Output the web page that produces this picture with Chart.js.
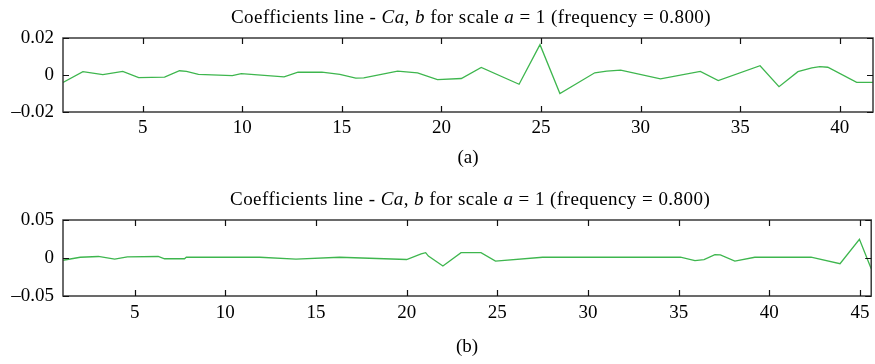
<!DOCTYPE html>
<html>
<head>
<meta charset="utf-8">
<script src="https://cdn.jsdelivr.net/npm/chart.js@4/dist/chart.umd.min.js"></script>
<style>
  body { margin: 0; background: #fff; }
  canvas { position: absolute; left: 0; }
  #chartA { top: 0; }
  #chartB { top: 180px; }
</style>
</head>
<body>
<canvas id="chartA" width="875" height="175"></canvas>
<canvas id="chartB" width="875" height="184"></canvas>
<script>
// (a) coefficient positions and values
var posA = [1, 2, 3, 4, 4.8, 6.1, 6.85, 7.2, 7.8, 9.5, 9.95, 12.1, 12.8, 14.0, 14.9, 15.7, 16.1,
  17.8, 18.8, 19.8, 21.0, 22.0, 23.9, 24.95, 25.95, 27.7, 28.3, 29.0, 31.0, 33.0, 33.9, 36.0,
  36.95, 37.9, 38.6, 39.0, 39.4, 40.85, 41.67];
var coefA = [-0.004, 0.0018, 0.0002, 0.002, -0.0014, -0.0012, 0.0023, 0.002, 0.0003, -0.0003, 0.0007,
  -0.001, 0.0015, 0.0015, 0.0003, -0.0017, -0.0015, 0.0021, 0.0012, -0.0025, -0.0019, 0.0041, -0.005,
  0.0164, -0.01, 0.0012, 0.0021, 0.0026, -0.0021, 0.0019, -0.003, 0.005, -0.0063, 0.0018, 0.0038,
  0.0045, 0.0042, -0.004, -0.004];

// (b) coefficient positions and values
var posB = [1.05, 2, 3, 3.9, 4.6, 6.3, 6.65, 7.75, 7.85, 11.9, 13.9, 16.3, 20.0, 20.8, 21.05, 21.2,
  22.0, 23.0, 24.1, 24.9, 27.5, 35.1, 35.9, 36.4, 37.0, 37.3, 38.1, 39.2, 42.3, 43.9, 44.97, 45.62];
var coefB = [-0.003, 0.001, 0.002, -0.0015, 0.0015, 0.002, -0.001, -0.001, 0.001, 0.001, -0.0015,
  0.001, -0.002, 0.0055, 0.007, 0.0025, -0.0105, 0.007, 0.007, -0.004, 0.001, 0.001, -0.0035, -0.002,
  0.0045, 0.004, -0.004, 0.001, 0.001, -0.0075, 0.0245, -0.014];

var xTicksA = [5, 10, 15, 20, 25, 30, 35, 40];
var xTicksB = [5, 10, 15, 20, 25, 30, 35, 40, 45];
var yTicksA = [-0.02, 0, 0.02];
var yTicksB = [-0.05, 0, 0.05];

var titleParts = [
  ["Coefficients line - ", false], ["Ca", true], [", ", false], ["b", true],
  [" for scale ", false], ["a", true], [" = 1 (frequency = 0.800)", false]
];

var serif = "'Liberation Serif', 'DejaVu Serif', serif";
var fontSize = 19;
var lineColor = "rgb(62, 182, 78)";
var frameColor = "#3a3a3a";

function fmt(v) {
  if (v === 0) return "0";
  var s = Math.abs(v).toFixed(2);
  return v < 0 ? "\u2013" + s : s;
}

// box around the plot with inward tick marks, plus the mixed-style title
var framePlugin = {
  id: "frame",
  afterDatasetsDraw: function (chart, args, opts) {
    var ctx = chart.ctx, a = chart.chartArea;
    var x = chart.scales.x, y = chart.scales.y;
    ctx.save();
    ctx.strokeStyle = frameColor;
    ctx.lineWidth = 1.5;
    ctx.strokeRect(a.left, a.top, a.right - a.left, a.bottom - a.top);
    ctx.beginPath();
    x.ticks.forEach(function (t) {
      var px = Math.round(x.getPixelForValue(t.value)) + 0.5;
      ctx.moveTo(px, a.top); ctx.lineTo(px, a.top + 6);
      ctx.moveTo(px, a.bottom); ctx.lineTo(px, a.bottom - 6);
    });
    y.ticks.forEach(function (t) {
      var py = Math.round(y.getPixelForValue(t.value)) + 0.5;
      ctx.moveTo(a.left, py); ctx.lineTo(a.left + 6, py);
      ctx.moveTo(a.right, py); ctx.lineTo(a.right - 6, py);
    });
    ctx.lineWidth = 1.2;
    ctx.strokeStyle = "#111";
    ctx.stroke();

    // title
    ctx.fillStyle = "#000";
    ctx.textBaseline = "middle";
    ctx.letterSpacing = "0.45px";
    var total = 0;
    titleParts.forEach(function (p) {
      ctx.font = (p[1] ? "italic " : "") + fontSize + "px " + serif;
      total += ctx.measureText(p[0]).width;
    });
    var cx = (a.left + a.right) / 2 + 3 - total / 2;
    titleParts.forEach(function (p) {
      ctx.font = (p[1] ? "italic " : "") + fontSize + "px " + serif;
      ctx.fillText(p[0], cx, opts.titleY);
      cx += ctx.measureText(p[0]).width;
    });
    ctx.restore();
  }
};

function makeChart(id, pos, coef, xMin, xMax, xTicks, yTicks, yMax, cfg) {
  var points = pos.map(function (p, i) { return { x: p, y: coef[i] }; });
  return new Chart(document.getElementById(id).getContext("2d"), {
    type: "line",
    data: {
      datasets: [{
        data: points,
        borderColor: lineColor,
        borderWidth: 1.3,
        pointRadius: 0,
        tension: 0,
        fill: false
      }]
    },
    options: {
      responsive: false,
      animation: false,
      layout: { padding: { left: 0, right: 2, top: cfg.top, bottom: 0 } },
      plugins: {
        legend: { display: false },
        tooltip: { enabled: false },
        frame: { titleY: cfg.titleY }
      },
      scales: {
        x: {
          type: "linear",
          min: xMin,
          max: xMax,
          grid: { display: false, drawTicks: false },
          border: { display: false },
          afterBuildTicks: function (axis) {
            axis.ticks = xTicks.map(function (v) { return { value: v }; });
          },
          afterFit: function (axis) { axis.height = cfg.xHeight; },
          ticks: {
            padding: cfg.labelPad,
            color: "#000",
            font: { family: serif, size: fontSize },
            maxRotation: 0,
            callback: function (v) { return String(v); }
          },
          title: {
            display: true,
            text: cfg.caption,
            color: "#000",
            font: { family: serif, size: fontSize },
            padding: { top: 0, bottom: 5.5 }
          }
        },
        y: {
          min: -yMax,
          max: yMax,
          grid: { display: false, drawTicks: false },
          border: { display: false },
          afterBuildTicks: function (axis) {
            axis.ticks = yTicks.map(function (v) { return { value: v }; });
          },
          afterFit: function (axis) { axis.width = 63; },
          ticks: {
            padding: 9,
            color: "#000",
            font: { family: serif, size: fontSize },
            callback: function (v) { return fmt(v); }
          }
        }
      }
    },
    plugins: [framePlugin]
  });
}

document.addEventListener("DOMContentLoaded", function () {
  makeChart("chartA", posA, coefA, 1, 41.67, xTicksA, yTicksA, 0.02,
    { top: 38, titleY: 18, xHeight: 63, labelPad: 4.5, caption: "(a)" });
  makeChart("chartB", posB, coefB, 1.05, 45.62, xTicksB, yTicksB, 0.05,
    { top: 40, titleY: 20, xHeight: 68, labelPad: 5.5, caption: "(b)" });
});
</script>
</body>
</html>
